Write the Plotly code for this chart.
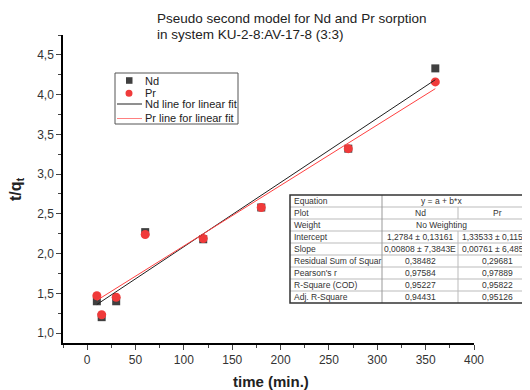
import plotly.graph_objects as go

# ---- data ----
time_min = [10, 15, 30, 60, 120, 180, 270, 360]
nd_vals = [1.40, 1.20, 1.40, 2.27, 2.18, 2.58, 3.32, 4.33]
pr_vals = [1.47, 1.23, 1.45, 2.24, 2.19, 2.58, 3.32, 4.16]

fit_intercept = {"Nd": 1.2784, "Pr": 1.33533}
fit_slope = {"Nd": 0.00808, "Pr": 0.00761}

x_ticks = [0, 50, 100, 150, 200, 250, 300, 350, 400]
y_ticks = [1.0, 1.5, 2.0, 2.5, 3.0, 3.5, 4.0, 4.5]

title_lines = ["Pseudo second model for Nd and Pr sorption", "in system KU-2-8:AV-17-8 (3:3)"]
legend_names = ["Nd", "Pr", "Nd line for linear fit", "Pr line for linear fit"]

table_labels = ["Equation", "Plot", "Weight", "Intercept", "Slope",
                "Residual Sum of Squar", "Pearson's r", "R-Square (COD)", "Adj. R-Square"]
table_nd = ["y = a + b*x", "Nd", "No Weighting", "1,2784 ± 0,13161", "0,00808 ± 7,3843E",
            "0,38482", "0,97584", "0,95227", "0,94431"]
table_pr = [None, "Pr", None, "1,33533 ± 0,11558", "0,00761 ± 6,48515",
            "0,29681", "0,97889", "0,95822", "0,95126"]

# ---- geometry (page pixels; the page body has an 8px margin) ----
OFF = 8
W, H = 530 - OFF, 390 - OFF
PL, PR_, PT, PB = 63, 474, 35, 343          # plot area in page pixels
ML, MR, MT, MB = PL - OFF, 530 - PR_, PT - OFF, 390 - PB
PW, PH = W - ML - MR, H - MT - MB

def px(xp):
    return (xp - OFF - ML) / PW

def py(yp):
    return (H - MB - (yp - OFF)) / PH

FONT = "Arial, Liberation Sans, sans-serif"
ND_COLOR = "#404040"
PR_COLOR = "#f03a3a"
NDLINE_COLOR = "#202020"
PRLINE_COLOR = "#ff4040"

fig = go.Figure()
fig.add_trace(go.Scatter(x=time_min, y=nd_vals, mode="markers", name=legend_names[0],
                         marker=dict(symbol="square", size=8, color=ND_COLOR)))
fig.add_trace(go.Scatter(x=time_min, y=pr_vals, mode="markers", name=legend_names[1],
                         marker=dict(symbol="circle", size=9, color=PR_COLOR)))
x0, x1 = min(time_min), max(time_min)
fig.add_trace(go.Scatter(x=[x0, x1],
                         y=[fit_intercept["Nd"] + fit_slope["Nd"] * x0, fit_intercept["Nd"] + fit_slope["Nd"] * x1],
                         mode="lines", name=legend_names[2], line=dict(color=NDLINE_COLOR, width=1)))
fig.add_trace(go.Scatter(x=[x0, x1],
                         y=[fit_intercept["Pr"] + fit_slope["Pr"] * x0, fit_intercept["Pr"] + fit_slope["Pr"] * x1],
                         mode="lines", name=legend_names[3], line=dict(color=PRLINE_COLOR, width=1)))

fig.update_layout(
    width=W, height=H,
    margin=dict(l=ML, r=MR, t=MT, b=MB),
    paper_bgcolor="white", plot_bgcolor="white",
    separators=", ",
    font=dict(family=FONT, color="#333333", size=12),
    showlegend=False,
)
fig.update_xaxes(range=[-25, 400], tickvals=x_ticks, ticks="outside", ticklen=5, tickwidth=1,
                 showline=True, linecolor="black", linewidth=1.5, showgrid=False, zeroline=False,
                 automargin=False,
                 minor=dict(ticks="outside", ticklen=3, dtick=25, tick0=0, showgrid=False),
                 tickfont=dict(size=12, color="#333333"))
fig.update_yaxes(range=[0.875, 4.75], tickvals=y_ticks, tickformat=".1f", ticks="outside", ticklen=5,
                 tickwidth=1, showline=True, linecolor="black", linewidth=1.5, showgrid=False, zeroline=False,
                 automargin=False,
                 minor=dict(ticks="outside", ticklen=3, dtick=0.25, tick0=0, showgrid=False),
                 tickfont=dict(size=12, color="#333333"))

# axis titles
fig.add_annotation(xref="paper", yref="paper", x=px(16), y=py(189), xanchor="center", yanchor="middle",
                   text="<b>t/q<sub>t</sub></b>", textangle=-90, showarrow=False,
                   font=dict(size=16, color="#222222"))
fig.add_annotation(xref="paper", yref="paper", x=px(271), y=py(381), xanchor="center", yanchor="middle",
                   text="<b>time (min.)</b>", showarrow=False, font=dict(size=15, color="#222222"))

# title (two lines)
for line, yy in zip(title_lines, [19, 34.5]):
    fig.add_annotation(xref="paper", yref="paper", x=px(155), y=py(yy), xanchor="left", yanchor="middle",
                       text=line, showarrow=False, align="left", font=dict(size=13.5, color="#222222"))

shapes = []

# ---- legend (drawn box) ----
lx0, ly0, lx1, ly1 = 115, 73, 238, 124
shapes.append(dict(type="rect", xref="paper", yref="paper", x0=px(lx0), x1=px(lx1), y0=py(ly0), y1=py(ly1),
                   line=dict(color="#555555", width=1), fillcolor="white"))
row_y = [80.5, 93.3, 104, 118.5]
shapes.append(dict(type="rect", xref="paper", yref="paper", x0=px(126), x1=px(132.5),
                   y0=py(row_y[0] - 3.3), y1=py(row_y[0] + 3.3), line=dict(width=0), fillcolor=ND_COLOR))
shapes.append(dict(type="circle", xref="paper", yref="paper", x0=px(125.5), x1=px(132.5),
                   y0=py(row_y[1] - 3.5), y1=py(row_y[1] + 3.5), line=dict(width=0), fillcolor=PR_COLOR))
shapes.append(dict(type="line", xref="paper", yref="paper", x0=px(117), x1=px(142),
                   y0=py(row_y[2]), y1=py(row_y[2]), line=dict(color=NDLINE_COLOR, width=1)))
shapes.append(dict(type="line", xref="paper", yref="paper", x0=px(117), x1=px(142),
                   y0=py(row_y[3]), y1=py(row_y[3]), line=dict(color="#ff8080", width=1)))
for name, yy in zip(legend_names, row_y):
    fig.add_annotation(xref="paper", yref="paper", x=px(143), y=py(yy), xanchor="left", yanchor="middle",
                       text=name, showarrow=False, font=dict(size=11, color="#222222"))

# ---- table ----
tx0, tc1, tc2, tx1 = 290, 382, 458, 536
ty0, rh = 195, 12
nrows = len(table_labels)
ty1 = ty0 + rh * nrows
shapes.append(dict(type="rect", xref="paper", yref="paper", x0=px(tx0), x1=px(tx1), y0=py(ty0), y1=py(ty1),
                   line=dict(width=0), fillcolor="white", layer="above"))
for i in range(1, nrows):
    yy = ty0 + rh * i
    shapes.append(dict(type="line", xref="paper", yref="paper", x0=px(tx0), x1=px(tx1), y0=py(yy), y1=py(yy),
                       line=dict(color="#bbbbbb", width=1)))
shapes.append(dict(type="line", xref="paper", yref="paper", x0=px(tc1), x1=px(tc1), y0=py(ty0), y1=py(ty1),
                   line=dict(color="#999999", width=1)))
for i in range(nrows):
    if table_pr[i] is not None:
        shapes.append(dict(type="line", xref="paper", yref="paper", x0=px(tc2), x1=px(tc2),
                           y0=py(ty0 + rh * i), y1=py(ty0 + rh * (i + 1)),
                           line=dict(color="#bbbbbb", width=1)))
shapes.append(dict(type="rect", xref="paper", yref="paper", x0=px(tx0), x1=px(tx1), y0=py(ty0), y1=py(ty1),
                   line=dict(color="#333333", width=1.5), fillcolor="rgba(0,0,0,0)"))
fig.update_layout(shapes=shapes)

TF = dict(size=8.5, color="#333333", family=FONT)
for i in range(nrows):
    yc = py(ty0 + rh * i + rh / 2)
    fig.add_annotation(xref="paper", yref="paper", x=px(tx0 + 2), y=yc, xanchor="left", yanchor="middle",
                       text=table_labels[i], showarrow=False, font=TF)
    if table_pr[i] is None:
        fig.add_annotation(xref="paper", yref="paper", x=px((tc1 + tx1) / 2 - 18), y=yc,
                           xanchor="center", yanchor="middle", text=table_nd[i], showarrow=False, font=TF)
    else:
        fig.add_annotation(xref="paper", yref="paper", x=px((tc1 + tc2) / 2), y=yc,
                           xanchor="center", yanchor="middle", text=table_nd[i], showarrow=False, font=TF)
        fig.add_annotation(xref="paper", yref="paper", x=px((tc2 + tx1) / 2), y=yc,
                           xanchor="center", yanchor="middle", text=table_pr[i], showarrow=False, font=TF)

fig.write_html("out.html")
